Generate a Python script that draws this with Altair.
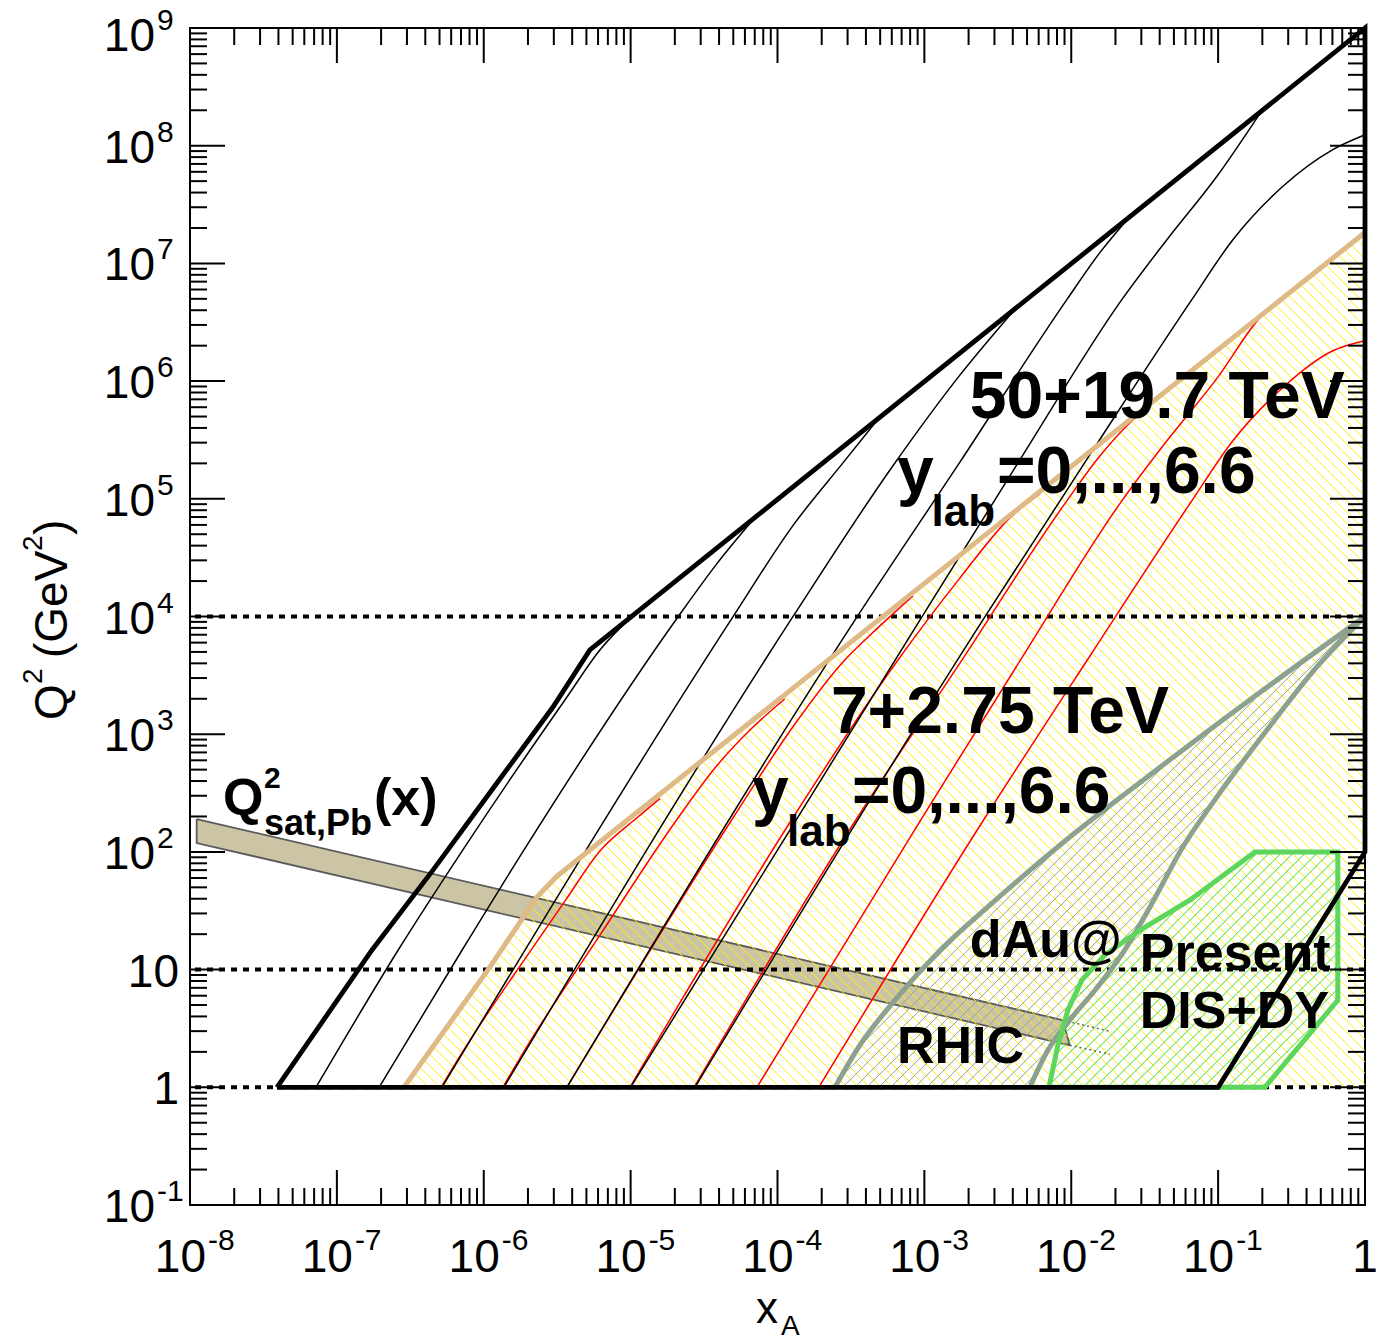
import numpy as np
import pandas as pd
import altair as alt

# ---------------- values ----------------
# kinematic limit, 50+19.7 TeV (thick black outline)
LIMIT_HI_X = [3.91e-8, 1.73e-7, 4.51e-7, 1.23e-6, 2.96e-6, 5.28e-6, 1.0, 1.0, 0.1, 3.91e-8]
LIMIT_HI_Q2 = [1, 14.6, 70.0, 385, 1702, 5200, 1e9, 100, 1, 1]

# y_lab curves 6..0, 50+19.7 TeV (thin black)
HI_Y6_X = [7.21e-8, 2.61e-7, 7.21e-7, 2.07e-6, 3.57e-6, 6.18e-6, 1.10e-5]
HI_Y6_Q2 = [1, 14.6, 104, 734, 1954, 5200, 1.09e4]
HI_Y5_X = [1.94e-7, 7.11e-7, 1.88e-6, 2.10e-5, 3.86e-5, 7.24e-5]
HI_Y5_Q2 = [1, 14.6, 104, 9910, 2.80e4, 7.24e4]
HI_Y4_X = [5.19e-7, 4.97e-5, 1.27e-4, 2.79e-4, 4.98e-4]
HI_Y4_Q2 = [1, 9910, 5.89e4, 2.02e5, 4.98e5]
HI_Y3_X = [1.37e-6, 1.27e-4, 6.11e-4, 1.75e-3, 4.27e-3]
HI_Y3_Q2 = [1, 9910, 1.91e5, 1.13e6, 4.27e6]
HI_Y2_X = [3.68e-6, 3.48e-4, 1.75e-3, 9.33e-3, 1.57e-2, 2.51e-2]
HI_Y2_Q2 = [1, 9910, 2.06e5, 4.92e6, 1.24e7, 2.51e7]
HI_Y1_X = [1.00e-5, 9.62e-4, 4.47e-3, 2.21e-2, 4.48e-2, 9.79e-2, 0.198]
HI_Y1_Q2 = [1, 9910, 2.14e5, 4.92e6, 1.59e7, 5.47e7, 1.98e8]
HI_Y0_X = [2.74e-5, 2.58e-3, 1.34e-2, 6.62e-2, 0.126, 0.275, 0.604, 1.0]
HI_Y0_Q2 = [1, 9910, 2.37e5, 4.92e6, 1.59e7, 4.50e7, 9.27e7, 1.24e8]

# kinematic limit, 7+2.75 TeV (tan line)
TAN_X = [2.86e-7, 1.10e-6, 2.30e-6, 3.15e-6, 1.0]
TAN_Q2 = [1, 10.5, 41.3, 62.2, 1.83e7]

# y_lab curves 6..0, 7+2.75 TeV (thin red)
LO_Y6_X = [5.12e-7, 7.21e-7, 2.07e-6, 3.57e-6, 6.18e-6, 1.10e-5, 1.58e-5]
LO_Y6_Q2 = [1, 2.02, 14.3, 38.2, 102, 194, 284]
LO_Y5_X = [1.35e-6, 1.88e-6, 6.18e-6, 2.10e-5, 3.75e-5, 6.49e-5, 1.12e-4]
LO_Y5_Q2 = [1, 2.02, 19.6, 194, 516, 1086, 1991]
LO_Y4_X = [3.68e-6, 4.97e-5, 1.27e-4, 2.79e-4, 4.98e-4, 8.36e-4]
LO_Y4_Q2 = [1, 194, 1151, 4110, 8318, 1.50e4]
LO_Y3_X = [9.89e-6, 1.27e-4, 6.11e-4, 1.75e-3, 3.82e-3, 6.11e-3]
LO_Y3_Q2 = [1, 194, 3726, 2.13e4, 6.89e4, 1.10e5]
LO_Y2_X = [2.70e-5, 3.48e-4, 1.75e-3, 9.33e-3, 1.57e-2, 2.51e-2, 3.71e-2]
LO_Y2_Q2 = [1, 194, 4030, 9.61e4, 2.32e5, 4.43e5, 6.68e5]
LO_Y1_X = [7.24e-5, 9.62e-4, 4.47e-3, 2.21e-2, 4.48e-2, 9.79e-2, 0.198, 0.318]
LO_Y1_Q2 = [1, 194, 4190, 9.61e4, 3.11e5, 1.05e6, 3.60e6, 5.75e6]
LO_Y0_X = [1.91e-4, 2.58e-3, 1.34e-2, 6.62e-2, 0.126, 0.275, 0.604, 1.0]
LO_Y0_Q2 = [1, 194, 4620, 9.61e4, 3.11e5, 8.79e5, 1.81e6, 2.2e6]

# Q^2_sat,Pb(x) band
BAND_X = [1.11e-8, 8.75e-3, 9.77e-3, 1.11e-8]
BAND_Q2 = [190, 3.72, 2.28, 119]
BAND_EXT_UP_X = [8.75e-3, 1.83e-2]
BAND_EXT_UP_Q2 = [3.72, 2.99]
BAND_EXT_LO_X = [9.77e-3, 1.83e-2]
BAND_EXT_LO_Q2 = [2.28, 1.91]

# dAu@RHIC region (grey)
RHIC_UP_X = [1.0, 0.164, 3.43e-2, 8.36e-3, 2.79e-3, 1.28e-3, 6.30e-4, 3.64e-4, 2.46e-4]
RHIC_UP_Q2 = [1e4, 1954, 450, 114, 35.3, 14.6, 5.50, 2.28, 1]
RHIC_LO_X = [1.0, 0.470, 0.215, 9.79e-2, 5.75e-2, 3.43e-2, 2.24e-2, 1.45e-2, 9.77e-3, 6.93e-3, 5.22e-3]
RHIC_LO_Q2 = [1e4, 3726, 1086, 292, 110, 33.9, 13.8, 6.68, 3.72, 2.06, 1]

# present DIS+DY region (green)
DIS_X = [7.05e-3, 8.11e-3, 9.48e-3, 1.18e-2, 1.69e-2, 2.93e-2, 6.41e-2, 0.178, 0.653, 0.653, 0.208]
DIS_Q2 = [1, 2.28, 4.52, 8.13, 13.3, 21.6, 38.9, 100, 100, 5.50, 1]

# dotted reference lines
DOTTED_Q2 = [1, 10, 1e4]

# annotations (text, anchor x, anchor Q^2)
ANNOT_TEXT = ["50+19.7 TeV", "y", "lab", "=0,...,6.6",
              "7+2.75 TeV", "y", "lab", "=0,...,6.6",
              "Q", "2", "sat,Pb", "(x)",
              "dAu@", "RHIC", "Present", "DIS+DY"]
ANNOT_X = [2.04e-3, 6.50e-4, 1.12e-3, 3.12e-3,
           2.31e-4, 6.70e-5, 1.16e-4, 3.21e-4,
           1.68e-8, 3.19e-8, 3.19e-8, 1.79e-7,
           2.04e-3, 6.50e-4, 2.93e-2, 2.93e-2]
ANNOT_Q2 = [4.89e5, 1.12e5, 5.89e4, 1.12e5,
            1.02e3, 214, 112, 214,
            206, 349, 139, 206,
            12.7, 1.60, 9.89, 3.18]

# axis ticks / labels
XTICK_VALUES = [1e-8, 1e-7, 1e-6, 1e-5, 1e-4, 1e-3, 1e-2, 1e-1]
XTICK_EXP = ["-8", "-7", "-6", "-5", "-4", "-3", "-2", "-1"]
YTICK_VALUES = [1e-1, 1e2, 1e3, 1e4, 1e5, 1e6, 1e7, 1e8]
YTICK_EXP = ["-1", "2", "3", "4", "5", "6", "7", "8"]
YTOP_VALUE = [1e9]
YTOP_EXP = ["9"]
YPLAIN_VALUES = [1, 10]
YPLAIN_TEXT = ["1", "10"]

# ---------------- styling ----------------
ANNOT_SIZE = [66, 66, 44, 66, 66, 66, 44, 66, 52, 30, 36, 52, 52, 52, 52, 52]
W, H = 1175, 1177
FONT = "Liberation Sans"
XS = alt.Scale(type="log", domain=[1e-8, 1.0], nice=False)
YS = alt.Scale(type="log", domain=[1e-1, 1e9], nice=False)


def X(f="x"):
    return alt.X(f, type="quantitative", scale=XS, axis=None)


def Y(f="q"):
    return alt.Y(f, type="quantitative", scale=YS, axis=None)


def curves_df(curves):
    frames = []
    for i, (xs, qs) in enumerate(curves):
        frames.append(pd.DataFrame({"x": xs, "q": qs, "o": np.arange(len(xs)), "id": i}))
    return pd.concat(frames, ignore_index=True)


def path_layer(curves, stroke, width, dash=None, fill=None, interp=None):
    kw = dict(stroke=stroke, strokeWidth=width, clip=False)
    if dash is not None:
        kw["strokeDash"] = dash
    if fill is not None:
        kw["fill"] = fill
    if interp is not None:
        kw["interpolate"] = interp
    return alt.Chart(curves_df(curves)).mark_line(**kw).encode(
        x=X(), y=Y(), detail="id:N", order="o:Q")


# hatch generator: parallel 45-degree lines clipped to a polygon (display-proportional space)
PXX, PXY = W / 8.0, H / 10.0


def to_px(x, q):
    return np.array([(np.log10(x) + 8.0) * PXX, (np.log10(q) + 1.0) * PXY])


def from_px(p):
    return 10 ** (p[0] / PXX - 8.0), 10 ** (p[1] / PXY - 1.0)


def hatch(xs, qs, rising, step):
    pts = [to_px(a, b) for a, b in zip(xs, qs)]
    if rising:
        n = np.array([-1.0, 1.0]) / np.sqrt(2); d = np.array([1.0, 1.0]) / np.sqrt(2)
    else:
        n = np.array([1.0, 1.0]) / np.sqrt(2); d = np.array([1.0, -1.0]) / np.sqrt(2)
    proj = [float(n @ p) for p in pts]
    rows = []
    m = len(pts)
    for k in range(int(np.floor(min(proj) / step)) - 1, int(np.ceil(max(proj) / step)) + 1):
        c = (k + 0.5) * step
        hits = []
        for i in range(m):
            p1, p2 = pts[i], pts[(i + 1) % m]
            s1, s2 = float(n @ p1) - c, float(n @ p2) - c
            if (s1 > 0) != (s2 > 0):
                t = s1 / (s1 - s2)
                hits.append(p1 + t * (p2 - p1))
        hits.sort(key=lambda p: float(d @ p))
        for j in range(0, len(hits) - 1, 2):
            x1, q1 = from_px(hits[j]); x2, q2 = from_px(hits[j + 1])
            rows.append({"x1": x1, "q1": q1, "x2": x2, "q2": q2})
    return pd.DataFrame(rows)


def hatch_layer(df, color, width=1.0):
    return alt.Chart(df).mark_rule(stroke=color, strokeWidth=width, clip=False).encode(
        x=X("x1"), x2=alt.X2("x2"), y=Y("q1"), y2=alt.Y2("q2"))


layers = []

# band (fill) first
layers.append(path_layer([(BAND_X + BAND_X[:1], BAND_Q2 + BAND_Q2[:1])], "#5a5a5a", 1.8, fill="#cbc5a6"))

# hatches
yellow_poly_x = TAN_X + [1.0]
yellow_poly_q = TAN_Q2 + [1.0]
layers.append(hatch_layer(hatch(yellow_poly_x, yellow_poly_q, False, 8.0), "#ffee00", 1.0))
grey_poly_x = RHIC_UP_X + RHIC_LO_X[::-1]
grey_poly_q = RHIC_UP_Q2 + RHIC_LO_Q2[::-1]
layers.append(hatch_layer(hatch(grey_poly_x, grey_poly_q, True, 8.5), "#93a596", 1.0))
layers.append(hatch_layer(hatch(DIS_X, DIS_Q2, True, 8.5), "#3ad83a", 1.0))

# dotted reference lines
layers.append(alt.Chart(pd.DataFrame({"q": DOTTED_Q2})).mark_rule(
    stroke="black", strokeWidth=4, strokeDash=[6, 6]).encode(y=Y()))

# band dotted extensions
layers.append(path_layer([(BAND_EXT_UP_X, BAND_EXT_UP_Q2), (BAND_EXT_LO_X, BAND_EXT_LO_Q2)],
                         "#666666", 1.5, dash=[2, 3]))

# red y_lab curves (7+2.75 TeV)
layers.append(path_layer([(LO_Y6_X, LO_Y6_Q2), (LO_Y5_X, LO_Y5_Q2), (LO_Y4_X, LO_Y4_Q2),
                          (LO_Y3_X, LO_Y3_Q2), (LO_Y2_X, LO_Y2_Q2), (LO_Y1_X, LO_Y1_Q2),
                          (LO_Y0_X, LO_Y0_Q2)], "#ff0000", 1.5, interp="monotone"))
# black y_lab curves (50+19.7 TeV)
layers.append(path_layer([(HI_Y6_X, HI_Y6_Q2), (HI_Y5_X, HI_Y5_Q2), (HI_Y4_X, HI_Y4_Q2),
                          (HI_Y3_X, HI_Y3_Q2), (HI_Y2_X, HI_Y2_Q2), (HI_Y1_X, HI_Y1_Q2),
                          (HI_Y0_X, HI_Y0_Q2)], "black", 1.5, interp="monotone"))

# tan limit, grey lines, green outline, black limit
layers.append(path_layer([(TAN_X, TAN_Q2)], "#dfb986", 5))
layers.append(path_layer([(RHIC_UP_X, RHIC_UP_Q2), (RHIC_LO_X, RHIC_LO_Q2)], "#8ca190", 5,
                         interp="monotone"))
layers.append(path_layer([(DIS_X + DIS_X[:1], DIS_Q2 + DIS_Q2[:1])], "#5cd65c", 5))
layers.append(path_layer([(LIMIT_HI_X, LIMIT_HI_Q2)], "black", 4.8))

# annotations
for t, ax, aq, s in zip(ANNOT_TEXT, ANNOT_X, ANNOT_Q2, ANNOT_SIZE):
    layers.append(alt.Chart(pd.DataFrame({"x": [ax], "q": [aq], "t": [t]})).mark_text(
        font=FONT, fontWeight="bold", fontSize=s, align="left", baseline="alphabetic",
        color="black").encode(x=X(), y=Y(), text="t:N"))

# ticks (inward, all four sides)
XMAJ = XTICK_VALUES + [1.0]
XMIN = [m * 10.0 ** k for k in range(-8, 0) for m in range(2, 10)]
YMAJ = [10.0 ** k for k in range(-1, 10)]
YMIN = [m * 10.0 ** k for k in range(-1, 9) for m in range(2, 10)]
TICK_MAJ, TICK_MIN = 35, 17
for vals, ln in ((XMAJ, TICK_MAJ), (XMIN, TICK_MIN)):
    d = pd.DataFrame({"v": vals})
    layers.append(alt.Chart(d).mark_rule(stroke="black", strokeWidth=2).encode(
        x=X("v"), y=alt.value(H - ln), y2=alt.value(H)))
    layers.append(alt.Chart(d).mark_rule(stroke="black", strokeWidth=2).encode(
        x=X("v"), y=alt.value(0), y2=alt.value(ln)))
for vals, ln in ((YMAJ, TICK_MAJ), (YMIN, TICK_MIN)):
    d = pd.DataFrame({"v": vals})
    layers.append(alt.Chart(d).mark_rule(stroke="black", strokeWidth=2).encode(
        y=Y("v"), x=alt.value(0), x2=alt.value(ln)))
    layers.append(alt.Chart(d).mark_rule(stroke="black", strokeWidth=2).encode(
        y=Y("v"), x=alt.value(W - ln), x2=alt.value(W)))

# x tick labels
xl = pd.DataFrame({"v": XTICK_VALUES, "e": XTICK_EXP, "b": ["10"] * len(XTICK_VALUES)})
layers.append(alt.Chart(xl).mark_text(font=FONT, fontSize=46, align="right", baseline="alphabetic",
                                      dx=16, color="black").encode(x=X("v"), y=alt.value(H + 67), text="b:N"))
layers.append(alt.Chart(xl).mark_text(font=FONT, fontSize=30, align="left", baseline="alphabetic",
                                      dx=18, color="black").encode(x=X("v"), y=alt.value(H + 45), text="e:N"))
layers.append(alt.Chart(pd.DataFrame({"v": [1.0], "t": ["1"]})).mark_text(
    font=FONT, fontSize=46, align="center", baseline="alphabetic", color="black").encode(
    x=X("v"), y=alt.value(H + 67), text="t:N"))

# y tick labels
def ylabels(vals, exps, shift):
    d = pd.DataFrame({"v": vals, "e": exps, "b": ["10"] * len(vals)})
    base = alt.Chart(d).mark_text(font=FONT, fontSize=46, align="right", baseline="alphabetic",
                                  dy=17 + shift, color="black").encode(y=Y("v"), x=alt.value(-35), text="b:N")
    sup = alt.Chart(d).mark_text(font=FONT, fontSize=30, align="left", baseline="alphabetic",
                                 dy=-4 + shift, color="black").encode(y=Y("v"), x=alt.value(-33), text="e:N")
    return [base, sup]

layers += ylabels(YTICK_VALUES, YTICK_EXP, 0)
layers += ylabels(YTOP_VALUE, YTOP_EXP, 6)
layers.append(alt.Chart(pd.DataFrame({"v": YPLAIN_VALUES, "t": YPLAIN_TEXT})).mark_text(
    font=FONT, fontSize=46, align="right", baseline="alphabetic", dy=17, color="black").encode(
    y=Y("v"), x=alt.value(-11), text="t:N"))

# axis titles
def ptext(t, x, y, size, angle=0):
    return alt.Chart(pd.DataFrame({"t": [t]})).mark_text(
        font=FONT, fontSize=size, align="left", baseline="alphabetic", angle=angle,
        color="black").encode(x=alt.value(x), y=alt.value(y), text="t:N")

layers.append(ptext("x", 566, H + 118, 44))
layers.append(ptext("A", 591, H + 130, 28))
layers.append(ptext("Q", -123, 692, 46, 270))
layers.append(ptext("2", -148, 656, 28, 270))
layers.append(ptext("(GeV", -123, 630, 46, 270))
layers.append(ptext("2", -148, 523, 28, 270))
layers.append(ptext(")", -123, 507, 46, 270))

chart = alt.layer(*layers).properties(
    width=W, height=H,
    padding={"left": 190, "top": 28, "right": 16, "bottom": 137},
    autosize=alt.AutoSizeParams(type="none"),
    background="white",
).configure_view(stroke="black", strokeWidth=2)

chart.save("out.html", embed_options={"renderer": "svg", "actions": False})
